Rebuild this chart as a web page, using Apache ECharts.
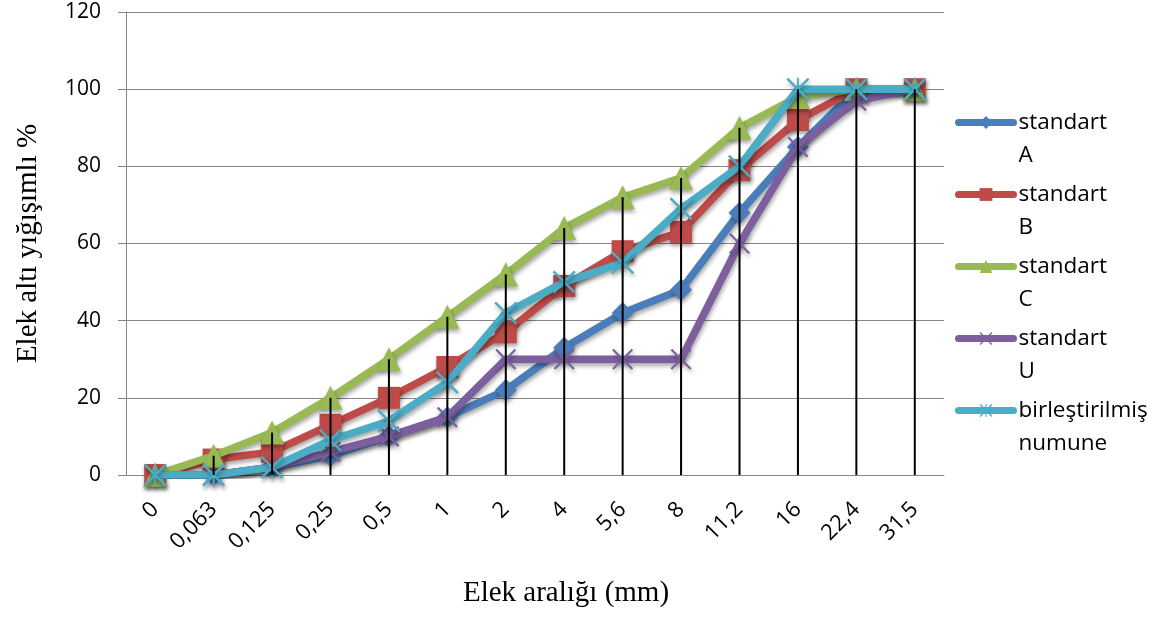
<!DOCTYPE html>
<html>
<head>
<meta charset="utf-8">
<script src="https://cdn.jsdelivr.net/npm/echarts@6/dist/echarts.min.js"></script>
<style>html,body{margin:0;padding:0;background:#fff}#c{width:1162px;height:617px}</style>
</head>
<body>
<div id="c"></div>
<script>
var categories = ['0','0,063','0,125','0,25','0,5','1','2','4','5,6','8','11,2','16','22,4','31,5'];
var seriesNames = ['standart A','standart B','standart C','standart U','birleştirilmiş numune'];
var standartA = [0, 0, 2, 5, 10, 15, 22, 33, 42, 48, 68, 85, 100, 100];
var standartB = [0, 4, 6, 13, 20, 28, 37, 49, 58, 63, 79, 92, 100, 100];
var standartC = [0, 5, 11, 20, 30, 41, 52, 64, 72, 77, 90, 98, 100, 100];
var standartU = [0, 0, 2, 6, 10, 15, 30, 30, 30, 30, 60, 85, 97, 100];
var birlestirilmis = [0, 0, 2, 9, 14, 24, 42, 50, 55, 69, 80, 100, 100, 100];
var yTicks = [0, 20, 40, 60, 80, 100, 120];

var colors = ['#4A7EBB', '#BE4B48', '#98B954', '#7D5FA0', '#4BACC6'];
var xPath = 'path://M0,1.5 L1.5,0 L10,8.5 L18.5,0 L20,1.5 L11.5,10 L20,18.5 L18.5,20 L10,11.5 L1.5,20 L0,18.5 L8.5,10 Z';
var starPath = xPath + ' M9.2,0 L10.8,0 L10.8,20 L9.2,20 Z';
var symbols = ['diamond', 'rect', 'triangle', xPath, starPath];
var sizes = [22, 22, 24, 21, 23];
var allData = [standartA, standartB, standartC, standartU, birlestirilmis];

var dropLines = categories.map(function (c, i) {
  return Math.max.apply(null, allData.map(function (d) { return d[i]; }));
});

var series = allData.map(function (d, k) {
  return {
    name: seriesNames[k],
    type: 'line',
    data: d,
    symbol: symbols[k],
    symbolSize: sizes[k],
    z: 2 + k,
    lineStyle: { width: 7.5, color: colors[k], cap: 'round', join: 'round', shadowColor: 'rgba(0,0,0,0.35)', shadowBlur: 4, shadowOffsetX: 1, shadowOffsetY: 3 },
    itemStyle: { color: colors[k], shadowColor: 'rgba(0,0,0,0.35)', shadowBlur: 4, shadowOffsetX: 1, shadowOffsetY: 3 },
    emphasis: { disabled: true },
    animation: false
  };
});
series.push({
  name: 'drop',
  type: 'bar',
  data: dropLines,
  barWidth: 2,
  itemStyle: { color: '#000' },
  z: 20,
  animation: false
});

var chart = echarts.init(document.getElementById('c'));
chart.setOption({
  backgroundColor: '#fff',
  animation: false,
  grid: { left: 126, right: 218, top: 12, bottom: 142, containLabel: false, outerBoundsMode: 'none' },
  legend: {
    data: seriesNames,
    orient: 'vertical',
    left: 955,
    top: 73,
    padding: 0,
    itemGap: -27,
    itemWidth: 55,
    itemHeight: 16,
    lineStyle: { width: 7, cap: 'round' },
    formatter: function (n) { return '\n' + n.replace(' ', '\n'); },
    textStyle: { fontFamily: 'Open Sans', fontSize: 22.5, color: '#000', lineHeight: 33 }
  },
  xAxis: {
    type: 'category',
    data: categories,
    boundaryGap: true,
    name: 'Elek aralığı (mm)',
    nameLocation: 'middle',
    nameGap: 104,
    nameMoveOverlap: false,
    nameTextStyle: { fontFamily: 'Liberation Serif', fontSize: 29, color: '#000', padding: [0, 0, 0, 62] },
    axisLine: { lineStyle: { color: '#868686', width: 1 } },
    axisTick: { show: false },
    axisLabel: { rotate: 45, margin: 31, fontFamily: 'Open Sans', fontSize: 22, color: '#000', interval: 0 }
  },
  yAxis: {
    type: 'value',
    min: yTicks[0],
    max: yTicks[yTicks.length - 1],
    interval: 20,
    name: 'Elek altı yığışımlı %',
    nameLocation: 'middle',
    nameGap: 83,
    nameMoveOverlap: false,
    nameRotate: 90,
    nameTextStyle: { fontFamily: 'Liberation Serif', fontSize: 29, color: '#000' },
    axisLine: { show: true, lineStyle: { color: '#868686', width: 1 } },
    axisTick: { show: true, length: 8, lineStyle: { color: '#868686' } },
    axisLabel: { margin: 25, fontFamily: 'Open Sans', fontSize: 21, color: '#000' },
    splitLine: { lineStyle: { color: '#868686', width: 1 } }
  },
  series: series
});
</script>
</body>
</html>
